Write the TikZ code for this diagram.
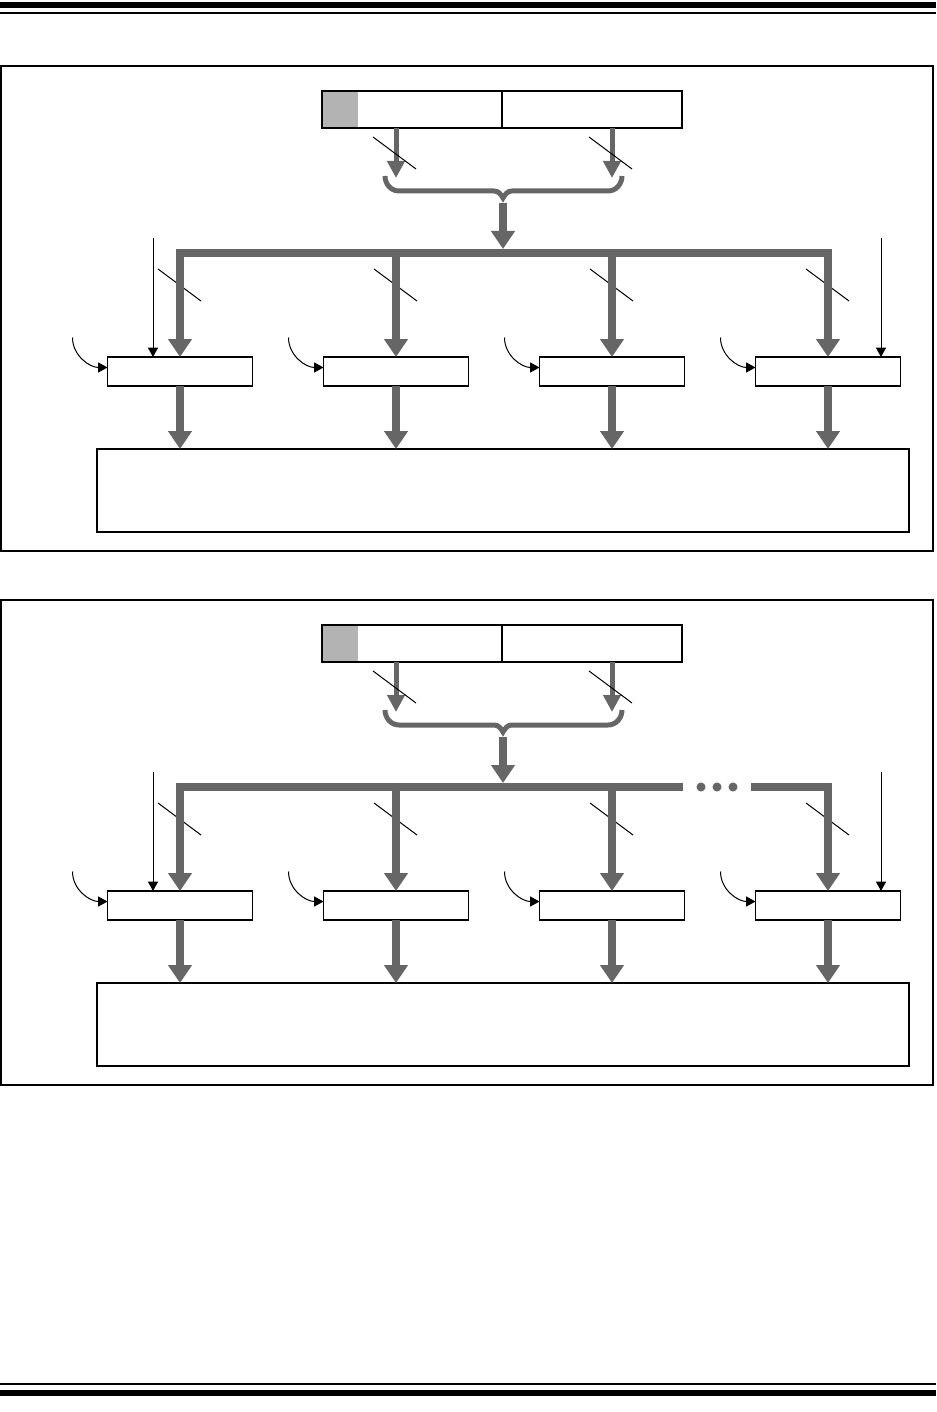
\documentclass[tikz,border=0pt]{standalone}
\usetikzlibrary{arrows.meta}
\definecolor{busgray}{HTML}{666666}
\definecolor{reggray}{HTML}{B3B3B3}

\begin{document}
\begin{tikzpicture}[x=0.75pt,y=-0.75pt,
    fubox/.style={draw,line width=0.8pt,minimum width=108.75pt,minimum height=21.75pt,inner sep=0pt,outer sep=0pt},
    regbox/.style={draw,line width=0.8pt,minimum width=135pt,minimum height=27.75pt,inner sep=0pt,outer sep=0pt},
    outbox/.style={draw,line width=0.8pt,minimum width=609pt,minimum height=62.25pt,inner sep=0pt,outer sep=0pt},
    bus/.style={busgray,line width=6pt,-{Triangle[width=17.25pt,length=13.5pt]}},
    busline/.style={busgray,line width=6pt},
    tap/.style={busgray,line width=3.75pt,-{Triangle[width=12.75pt,length=12.75pt]}},
    brace/.style={busgray,line width=3.75pt},
    ctl/.style={black,line width=0.75pt,-{Triangle[width=7.5pt,length=7pt]}},
    slash/.style={black,line width=0.75pt}]
  \useasboundingbox (0,0) rectangle (936,1412);
  % page rules
  \fill (0,2) rectangle (936,8);
  \fill (0,12) rectangle (936,14);
  \fill (0,1383) rectangle (936,1385);
  \fill (0,1390) rectangle (936,1396);
  \foreach \p/\dy in {1/0,2/534}{
   \begin{scope}[shift={(0,\dy)}]
    \draw[line width=1pt] (1,66) rectangle (933,551);
    % register
    \node[regbox,path picture={\fill[reggray] (path picture bounding box.north west)
        rectangle ([xshift=27pt]path picture bounding box.south west);}] (regH\p) at (412,109.5) {};
    \node[regbox] (regL\p) at (592,109.5) {};
    % units
    \foreach \i/\x in {1/180,2/396,3/612,4/828}{
      \node[fubox] (fu\p\i) at (\x,371.5) {};
      \draw[ctl] (fu\p\i.west) ++(-35,-34) to[out=-90,in=180] ([yshift=3pt]fu\p\i.west);
      \draw[slash] (\x-22,269) -- (\x+21,301);
    }
    \node[outbox] (out\p) at (503,490.5) {};
    \coordinate (tapH\p) at (396,178);
    \coordinate (tapL\p) at (612,178);
    \coordinate (brace\p) at (503,198);
    \coordinate (bus\p) at (503,253);
    \coordinate (ctlL\p) at (153,238);
    \coordinate (ctlR\p) at (881,238);
    \draw[tap] (regH\p.south -| tapH\p) -- (tapH\p);
    \draw[tap] (regL\p.south -| tapL\p) -- (tapL\p);
    \draw[slash] (373,137) -- (416,169);
    \draw[slash] (589,137) -- (632,169);
    \draw[brace] (385,176) to[out=-90,in=180] (399,191) -- (494,191)
       to[out=0,in=120] (brace\p) to[out=60,in=180] (512,191) -- (608,191)
       to[out=0,in=-90] (622,176);
    \draw[bus] ([yshift=-3.5pt]brace\p) -- ([yshift=3pt]bus\p);
    % bus
    \draw[bus] (bus\p) -| (fu\p1.north);
    \ifnum\p=1
      \draw[bus] (bus\p) -| (fu\p4.north);
    \else
      \draw[busline] (bus\p) -- (683,253);
      \draw[bus] (751,253) -| (fu\p4.north);
      \foreach \d in {701,717,733} \fill[busgray] (\d,253) circle (3.4pt);
    \fi
    \foreach \i in {2,3} \draw[bus] (fu\p\i.north |- bus\p) -- (fu\p\i.north);
    \draw[ctl] (ctlL\p) -- (ctlL\p |- fu\p1.north);
    \draw[ctl] (ctlR\p) -- (ctlR\p |- fu\p4.north);
    \foreach \i in {1,...,4} \draw[bus] (fu\p\i.south) -- (fu\p\i.south |- out\p.north);
   \end{scope}
  }
\end{tikzpicture}
\end{document}
